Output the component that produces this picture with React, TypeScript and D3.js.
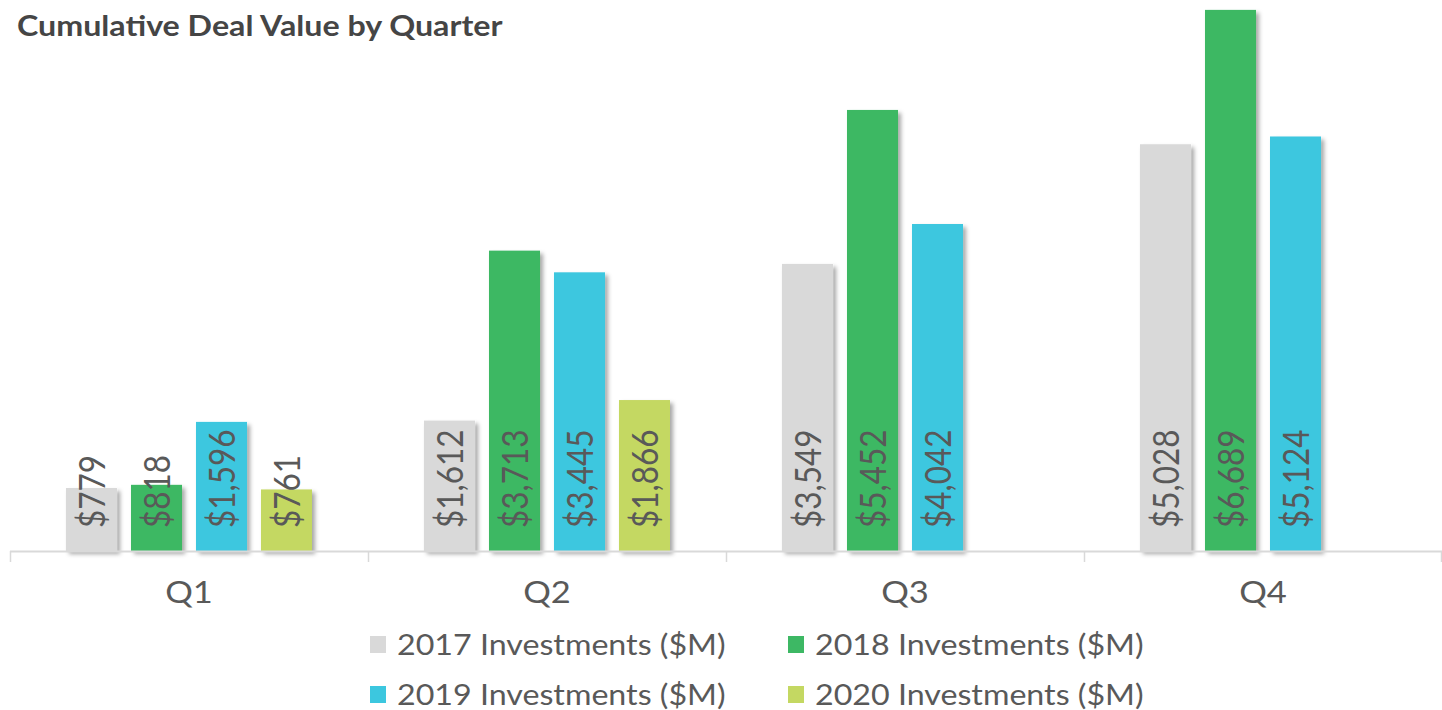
import React from "react";
import { scaleBand, scaleLinear } from "d3";

const quarters = ["Q1", "Q2", "Q3", "Q4"];
const seriesNames = [
  "2017 Investments ($M)",
  "2018 Investments ($M)",
  "2019 Investments ($M)",
  "2020 Investments ($M)",
];
const values2017 = [779, 1612, 3549, 5028];
const values2018 = [818, 3713, 5452, 6689];
const values2019 = [1596, 3445, 4042, 5124];
const values2020: (number | null)[] = [761, 1866, null, null];
const seriesColors = ["#d9d9d9", "#3db864", "#3cc7df", "#c4d862"];

const W = 1442;
const H = 710;
const baseY = 551;
const font = "Lato, 'Open Sans', sans-serif";
// the source picture is a little wider than Lato's natural proportions
const stretch = 1.15;

function App() {
  const allSeries = [values2017, values2018, values2019, values2020];

  const x0 = scaleBand<string>().domain(quarters).range([10, W]).padding(0);
  const x1 = scaleBand<string>()
    .domain(seriesNames)
    .range([56, 302])
    .paddingInner(0.215)
    .paddingOuter(0);
  const y = scaleLinear().domain([0, 6700]).range([baseY, 9]);

  const fmt = (v: number) => "$" + v.toLocaleString("en-US");

  // legend placement: 2 columns x 2 rows
  const legendCols = [370, 788];
  const legendRows = [655, 705];

  return (
    <svg
      width={W}
      height={H}
      style={{ position: "absolute", left: 0, top: 0, background: "#fff" }}
      fontFamily={font}
    >
      <defs>
        <filter id="shadow" x="-20%" y="-20%" width="150%" height="150%">
          <feDropShadow dx="3" dy="3" stdDeviation="2" floodColor="#000" floodOpacity="0.35" />
        </filter>
      </defs>

      <text
        transform={`translate(17,36) scale(${stretch},1)`}
        fontSize={28}
        fontWeight={700}
        fill="#454545"
      >
        Cumulative Deal Value by Quarter
      </text>

      {/* bars */}
      {quarters.map((q, qi) => (
        <g key={q} transform={`translate(${x0(q)},0)`}>
          {allSeries.map((s, si) => {
            const v = s[qi];
            if (v == null) return null;
            return (
              <rect
                key={si}
                x={x1(seriesNames[si])}
                y={y(v)}
                width={x1.bandwidth()}
                height={baseY - y(v)}
                fill={seriesColors[si]}
                filter="url(#shadow)"
              />
            );
          })}
        </g>
      ))}

      {/* axis */}
      <line x1={10} x2={W} y1={baseY + 0.5} y2={baseY + 0.5} stroke="#d9d9d9" strokeWidth={2} />
      {[...quarters.map((q) => x0(q) as number), W - 1].map((t, i) => (
        <line key={i} x1={t + 0.5} x2={t + 0.5} y1={baseY} y2={baseY + 11} stroke="#d9d9d9" strokeWidth={1.5} />
      ))}
      {quarters.map((q) => (
        <text
          key={q}
          transform={`translate(${(x0(q) as number) + x0.bandwidth() / 2},603) scale(${stretch},1)`}
          fontSize={30}
          fill="#595959"
          textAnchor="middle"
        >
          {q}
        </text>
      ))}

      {/* data labels */}
      {quarters.map((q, qi) =>
        allSeries.map((s, si) => {
          const v = s[qi];
          if (v == null) return null;
          const cx = (x0(q) as number) + (x1(seriesNames[si]) as number) + x1.bandwidth() / 2;
          const ty = baseY - 23;
          return (
            <text
              key={q + si}
              transform={`translate(${cx},${ty}) scale(${stretch},1) rotate(-90)`}
              dy="0.36em"
              fontSize={31.5}
              fill="#595959"
            >
              {fmt(v)}
            </text>
          );
        })
      )}

      {/* legend */}
      {seriesNames.map((name, i) => {
        const lx = legendCols[i % 2];
        const ly = legendRows[Math.floor(i / 2)];
        return (
          <g key={name}>
            <rect x={lx} y={ly - 19} width={16} height={17} fill={seriesColors[i]} />
            <text transform={`translate(${lx + 27},${ly}) scale(${stretch},1)`} fontSize={28} fill="#595959">
              {name}
            </text>
          </g>
        );
      })}
    </svg>
  );
}

export default App;
